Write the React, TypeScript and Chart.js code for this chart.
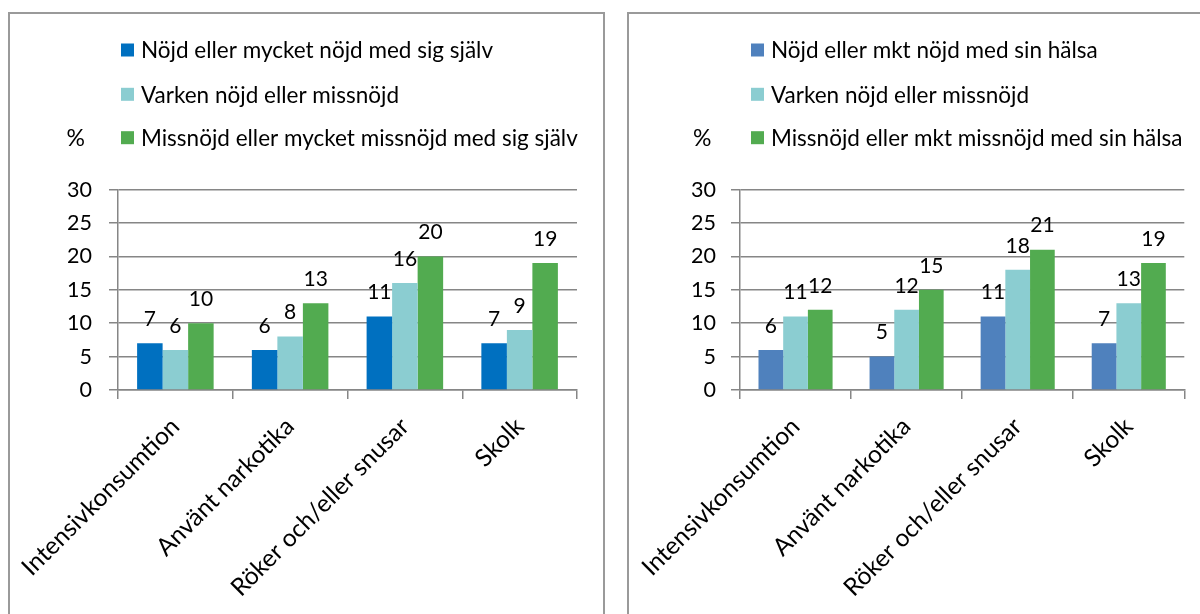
import React, { useEffect, useRef } from "react";
import { Chart, registerables } from "chart.js";

Chart.register(...registerables);

const categories = ["Intensivkonsumtion", "Använt narkotika", "Röker och/eller snusar", "Skolk"];

const selfLabels = [
  "Nöjd eller mycket nöjd med sig själv",
  "Varken nöjd eller missnöjd",
  "Missnöjd eller mycket missnöjd med sig själv",
];
const selfSatisfied = [7, 6, 11, 7];
const selfNeutral = [6, 8, 16, 9];
const selfDissatisfied = [10, 13, 20, 19];

const healthLabels = [
  "Nöjd eller mkt nöjd med sin hälsa",
  "Varken nöjd eller missnöjd",
  "Missnöjd eller mkt missnöjd med sin hälsa",
];
const healthSatisfied = [6, 5, 11, 7];
const healthNeutral = [11, 12, 18, 13];
const healthDissatisfied = [12, 15, 21, 19];

const yMin = 0;
const yMax = 30;
const yStep = 5;
const yUnit = "%";

const FONT = "Lato, 'Open Sans', sans-serif";
const GRID = "#868686";

type Geo = {
  width: number;
  axisLeft: number;
  axisRight: number;
  top: number;
  bottom: number;
  tickPad: number;
  legendX: number;
  unitRight: number;
};

const legendPlugin = (geo: Geo) => ({
  id: "customLegend",
  afterDraw(chart: any) {
    const ctx = chart.ctx;
    ctx.save();
    const rows = [50, 94.3, 137.7];
    ctx.font = `22.5px ${FONT}`;
    ctx.textBaseline = "middle";
    ctx.textAlign = "left";
    chart.data.datasets.forEach((ds: any, i: number) => {
      const y = rows[i];
      ctx.fillStyle = ds.backgroundColor;
      ctx.fillRect(geo.legendX, y - 6.5, 13, 13);
      ctx.fillStyle = "#000";
      ctx.fillText(ds.label, geo.legendX + 20, y + 1);
    });
    ctx.font = `23px ${FONT}`;
    ctx.textAlign = "right";
    ctx.fillText(yUnit, geo.unitRight, rows[2] + 1);
    ctx.restore();
  },
});

const valueLabelPlugin = {
  id: "valueLabels",
  afterDatasetsDraw(chart: any) {
    const ctx = chart.ctx;
    ctx.save();
    ctx.font = `21px ${FONT}`;
    ctx.fillStyle = "#000";
    ctx.textAlign = "center";
    ctx.textBaseline = "middle";
    chart.data.datasets.forEach((ds: any, i: number) => {
      const meta = chart.getDatasetMeta(i);
      meta.data.forEach((bar: any, j: number) => {
        ctx.fillText(String(ds.data[j]), bar.x, bar.y - 24);
      });
    });
    ctx.restore();
  },
};

function BarPanel(props: {
  left: number;
  geo: Geo;
  labels: string[];
  series: number[][];
  colors: string[];
}) {
  const ref = useRef<HTMLCanvasElement>(null);
  const { geo } = props;
  useEffect(() => {
    if (!ref.current) return;
    const chart = new Chart(ref.current, {
      type: "bar",
      data: {
        labels: categories,
        datasets: props.series.map((d, i) => ({
          label: props.labels[i],
          data: d,
          backgroundColor: props.colors[i],
          borderWidth: 0,
          categoryPercentage: 0.667,
          barPercentage: 1,
        })),
      },
      options: {
        responsive: false,
        animation: false,
        events: [],
        layout: {
          padding: { left: 0, top: geo.top, right: geo.width - geo.axisRight, bottom: 0 },
        },
        plugins: {
          legend: { display: false },
          tooltip: { enabled: false },
          title: { display: false },
        },
        scales: {
          x: {
            type: "category",
            offset: true,
            grid: {
              offset: true,
              drawOnChartArea: false,
              drawTicks: true,
              tickLength: 9,
              color: GRID,
              lineWidth: 1.5,
            },
            border: { display: true, color: GRID, width: 1.5 },
            ticks: {
              autoSkip: false,
              minRotation: 45,
              maxRotation: 45,
              padding: 13,
              color: "#000",
              font: { family: FONT, size: 24.5 },
            },
            afterFit(s: any) {
              s.height = 614 - geo.bottom;
              s.paddingLeft = 0;
              s.paddingRight = 0;
            },
          },
          y: {
            min: yMin,
            max: yMax,
            ticks: {
              stepSize: yStep,
              padding: geo.tickPad,
              color: "#000",
              font: { family: FONT, size: 21.5 },
            },
            grid: {
              color: GRID,
              lineWidth: 1.5,
              tickLength: 9,
              drawTicks: true,
            },
            border: { display: true, color: GRID, width: 1.5 },
            afterFit(s: any) {
              s.width = geo.axisLeft;
              s.paddingTop = 0;
              s.paddingBottom = 0;
            },
          },
        },
      },
      plugins: [valueLabelPlugin, legendPlugin(geo)],
    } as any);
    return () => chart.destroy();
  }, []);
  return (
    <canvas
      ref={ref}
      width={geo.width}
      height={614}
      style={{ position: "absolute", left: props.left, top: 0, width: geo.width, height: 614 }}
    />
  );
}

export default function App() {
  const leftGeo: Geo = {
    width: 616,
    axisLeft: 118,
    axisRight: 577,
    top: 189.6,
    bottom: 390,
    tickPad: 17,
    legendX: 121,
    unitRight: 85,
  };
  const rightGeo: Geo = {
    width: 584,
    axisLeft: 124,
    axisRight: 568.3,
    top: 189.6,
    bottom: 390,
    tickPad: 15,
    legendX: 135,
    unitRight: 95.5,
  };
  const boxStyle = (left: number, width: number): React.CSSProperties => ({
    position: "absolute",
    left,
    top: 12,
    width,
    height: 700,
    border: "2px solid #9a9a9a",
    boxSizing: "border-box",
    pointerEvents: "none",
  });
  return (
    <div
      style={{
        position: "fixed",
        left: 0,
        top: 0,
        width: 1200,
        height: 614,
        overflow: "hidden",
        background: "#fff",
      }}
    >
      <BarPanel
        left={0}
        geo={leftGeo}
        labels={selfLabels}
        series={[selfSatisfied, selfNeutral, selfDissatisfied]}
        colors={["#0070C0", "#8BCDD1", "#52AB50"]}
      />
      <BarPanel
        left={616}
        geo={rightGeo}
        labels={healthLabels}
        series={[healthSatisfied, healthNeutral, healthDissatisfied]}
        colors={["#4F81BD", "#8BCDD1", "#52AB50"]}
      />
      <div style={boxStyle(8, 597)} />
      <div style={boxStyle(627, 700)} />
    </div>
  );
}
